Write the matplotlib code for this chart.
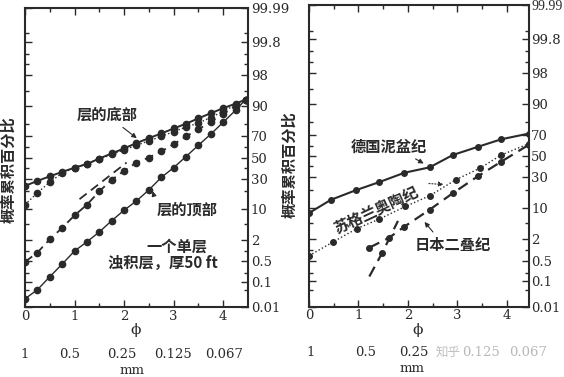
import numpy as np
import matplotlib
matplotlib.use('Agg')
import matplotlib.pyplot as plt
from statistics import NormalDist

# ---- data (phi, cumulative percent) ----
phi_steps = [0, 0.25, 0.5, 0.75, 1.0, 1.25, 1.5, 1.75, 2.0, 2.25, 2.5,
             2.75, 3.0, 3.25, 3.5, 3.75, 4.0, 4.25, 4.45]

# left panel: single turbidite bed
bed_base = [24, 28, 32, 36, 40, 43.5, 49, 54, 59, 64, 68.5, 72.5, 76.5, 80, 83.5, 86.5, 89, 91, 92.5]
bed_mid = [12, 19, 27, 35, 40, 44, 48.5, 53, 57.5, 62, 66, 70, 74, 77.5, 80.5, 84, 87.5, 90.5, 92.5]
bed_top = [0.47, 0.9, 2.1, 4, 7.5, 12, 20, 29, 37, 45, 50, 56, 63, 70, 76, 81, 86, 90, 92.5]
bed_top_branch_phi = [1.1, 2.05]
bed_top_branch = [15, 45]
bed_fine = [0.022, 0.05, 0.15, 0.4, 1.0, 1.8, 3.2, 5.8, 9.5, 14, 21, 31, 40, 51, 62, 72, 81, 88, 92.5]

# right panel: three formations
devonian_phi = [0, 0.44, 0.95, 1.42, 1.93, 2.44, 2.91, 3.42, 3.89, 4.45]
devonian = [8, 14, 20, 26, 34, 39, 51, 59, 66, 71]
ordovician_phi = [0, 0.48, 0.97, 1.42, 1.95, 2.45, 2.97, 3.45, 3.89, 4.45]
ordovician = [0.7, 1.7, 3.7, 6, 10.7, 16.5, 28, 38, 51, 62]
permian_phi = [1.22, 1.62, 1.93, 2.44, 2.91, 3.42, 3.89, 4.45]
permian = [1.2, 2.2, 4.1, 9.3, 18, 31, 44.5, 61]
permian_steep_phi = [1.22, 1.48, 1.8]
permian_steep = [0.15, 0.85, 5.5]

y_major = [0.01, 0.1, 0.5, 2, 10, 30, 50, 70, 90, 98, 99.8, 99.99]
y_labels = ['0.01', '0.1', '0.5', '2', '10', '30', '50', '70', '90', '98', '99.8', '99.99']
y_minor = [0.05, 0.2, 1, 5, 20, 40, 60, 80, 95, 99, 99.5, 99.9]
mm_labels = ['1', '0.5', '0.25', '0.125', '0.067']

ink = '#2a2a2a'
cjk = ['Noto Sans CJK SC', 'DejaVu Sans']
num_font = 'DejaVu Serif'

_nd = NormalDist()
def probit(p):
    p = np.clip(np.asarray(p, dtype=float), 1e-7, 100 - 1e-7)
    return np.vectorize(lambda v: _nd.inv_cdf(v / 100.0), otypes=[float])(p)

def inv_probit(z):
    z = np.asarray(z, dtype=float)
    return np.vectorize(lambda v: _nd.cdf(v) * 100.0, otypes=[float])(z)


def setup_axis(ax, xmax, pad=2):
    ax.set_yscale('function', functions=(probit, inv_probit))
    ax.set_ylim(0.01, 99.99)
    ax.set_xlim(0, xmax)
    ax.set_yticks(y_major)
    ax.set_yticks(y_minor, minor=True)
    ax.set_xticks([0, 1, 2, 3, 4])
    ax.set_xticks([0.5, 1.5, 2.5, 3.5], minor=True)
    ax.tick_params(which='both', direction='in', top=True, right=True, left=True,
                   labelleft=False, labelright=True, color=ink)
    ax.tick_params(which='major', length=5, width=1.0, pad=pad)
    ax.tick_params(which='minor', length=3, width=1.0)
    ax.set_yticklabels(y_labels, family=num_font, fontsize=9.5, color=ink)
    ax.set_xticklabels(['0', '1', '2', '3', '4'], family=num_font, fontsize=9.5, color=ink)
    for s in ax.spines.values():
        s.set_linewidth(1.5)
        s.set_color(ink)


fig = plt.figure(figsize=(5.64, 3.77), dpi=100)
axl = fig.add_axes([0.0443, 0.1857, 0.3954, 0.793])
axr = fig.add_axes([0.5479, 0.1857, 0.390, 0.801])
setup_axis(axl, 4.5)
setup_axis(axr, 4.45, pad=1.5)

mk = dict(marker='o', markersize=4.5, markerfacecolor=ink, markeredgecolor=ink, color=ink)

# left panel lines
axl.plot(phi_steps, bed_base, linestyle='-', linewidth=1.4, **mk)
axl.plot(phi_steps, bed_mid, linestyle=':', linewidth=1.0, **mk)
axl.plot(phi_steps, bed_top, linestyle=(0, (5, 3)), linewidth=1.3, **mk)
axl.plot(bed_top_branch_phi, bed_top_branch, linestyle=(0, (5, 3)), linewidth=1.3, color=ink)
axl.plot(phi_steps, bed_fine, linestyle='-', linewidth=1.0, **mk)

arrow = dict(arrowstyle='-|>', color=ink, lw=0.8, mutation_scale=7)
axl.annotate('层的底部', xy=(2.3, 67), xytext=(1.65, 85.5), family=cjk, fontsize=11,
             fontweight='bold', color=ink, ha='center', va='center', arrowprops=arrow)
axl.annotate('层的顶部', xy=(2.56, 22), xytext=(3.27, 9.9), family=cjk, fontsize=11,
             fontweight='bold', color=ink, ha='center', va='center',
             arrowprops=dict(arrow, relpos=(0, 0.8)))
axl.text(3.06, 1.3, '一个单层', family=cjk, fontsize=11, fontweight='bold',
         color=ink, ha='center', va='center')
axl.text(2.79, 0.43, '浊积层，厚50 ft', family=cjk, fontsize=11, fontweight='bold',
         color=ink, ha='center', va='center')

# right panel lines
axr.plot(devonian_phi, devonian, linestyle='-', linewidth=1.5, **dict(mk, markersize=4))
axr.plot(ordovician_phi, ordovician, linestyle=':', linewidth=1.0, **dict(mk, markersize=4))
axr.plot(permian_phi, permian, linestyle=(0, (5, 3)), linewidth=1.6, **dict(mk, markersize=4))
axr.plot(permian_steep_phi, permian_steep, linestyle=(0, (5, 3)), linewidth=1.6, color=ink)
axr.plot(permian_steep_phi[1], permian_steep[1], **dict(mk, markersize=4))

axr.annotate('德国泥盆纪', xy=(2.37, 41.4), xytext=(1.62, 59), family=cjk, fontsize=11,
             fontweight='bold', color=ink, ha='center', va='center',
             arrowprops=dict(arrow, relpos=(0.75, 0)))
axr.text(1.35, 9.3, '苏格兰奥陶纪', family=cjk, fontsize=11, fontweight='bold',
         color=ink, ha='center', va='center', rotation=25)
axr.annotate('', xy=(2.78, 24), xytext=(2.37, 25),
             arrowprops=dict(arrowstyle='-|>', color=ink, lw=0.8, linestyle=':', mutation_scale=7))
axr.annotate('日本二叠纪', xy=(2.3, 5.8), xytext=(2.9, 1.43), family=cjk, fontsize=11,
             fontweight='bold', color=ink, ha='center', va='center',
             arrowprops=dict(arrow, relpos=(0.3, 1)))

# axis titles, phi and mm rows (figure pixel coords)
def ftxt(x, y, s, **kw):
    fig.text(x / 564, 1 - y / 377, s, ha='center', va='center', color=ink, **kw)

ftxt(8, 170, '概率累积百分比', family=cjk, fontsize=11, fontweight='bold', rotation=90)
ftxt(289, 165, '概率累积百分比', family=cjk, fontsize=11, fontweight='bold', rotation=90)
ftxt(136, 330, 'ϕ', family='DejaVu Serif', fontsize=11)
ftxt(418, 330, 'ϕ', family='DejaVu Serif', fontsize=11)

left_mm_x = [25, 70, 122, 173, 224]
for x, s in zip(left_mm_x, mm_labels):
    ftxt(x, 354, s, family=num_font, fontsize=9.5)
ftxt(132, 370, 'mm', family=num_font, fontsize=9.5)

right_mm_x = [311, 366, 414, 481, 528]
for x, s, c in zip(right_mm_x, mm_labels, [ink, ink, ink, '#b8b8b8', '#b8b8b8']):
    fig.text(x / 564, 1 - 352 / 377, s, ha='center', va='center', color=c,
             family=num_font, fontsize=9.5)
ftxt(412, 368, 'mm', family=num_font, fontsize=9.5)
fig.text(448 / 564, 1 - 352 / 377, '知乎', ha='center', va='center', color='#c0c0c0',
         family=cjk, fontsize=9)

# top label of the right panel sits at the image edge: narrower face so it fits
top_lbl = axr.get_yticklabels()[-1]
top_lbl.set_family('Liberation Serif')
top_lbl.set_fontsize(10)

fig.savefig('out.png', dpi=100)
